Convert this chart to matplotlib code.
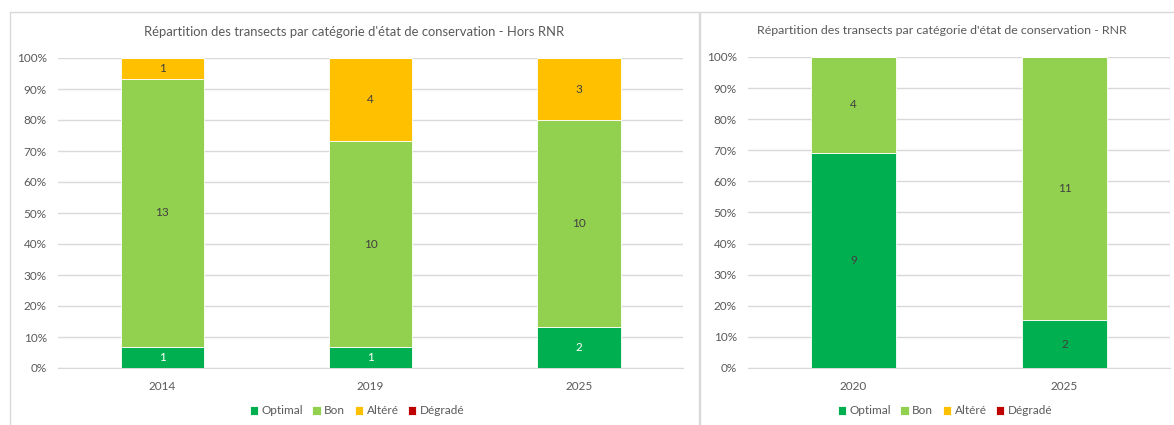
import matplotlib
matplotlib.use("Agg")
import matplotlib.pyplot as plt
import numpy as np
from matplotlib.patches import Rectangle

plt.rcParams['font.family'] = ['Lato', 'DejaVu Sans']

series = ["Optimal", "Bon", "Altéré", "Dégradé"]
colors = ["#00B050", "#92D050", "#FFC000", "#C00000"]

left_title = "Répartition des transects par catégorie d'état de conservation - Hors RNR"
left_years = ["2014", "2019", "2025"]
left_optimal = [1, 1, 2]
left_bon = [13, 10, 10]
left_altere = [1, 4, 3]
left_degrade = [0, 0, 0]

right_title = "Répartition des transects par catégorie d'état de conservation - RNR"
right_years = ["2020", "2025"]
right_optimal = [9, 2]
right_bon = [4, 11]
right_altere = [0, 0]
right_degrade = [0, 0]

W, H = 1174, 425
fig = plt.figure(figsize=(W / 100, H / 100), dpi=100)
fig.patch.set_facecolor("white")

def px_axes(x0, y0, x1, y1):
    return fig.add_axes([x0 / W, 1 - y1 / H, (x1 - x0) / W, (y1 - y0) / H])

# chart borders
fig.patches.append(Rectangle((10 / W, -0.01), (699 - 10) / W, 1 - 12 / H + 0.01,
                             transform=fig.transFigure, fill=False,
                             edgecolor="#D9D9D9", linewidth=1))
fig.patches.append(Rectangle((700 / W, -0.01), (1180 - 700) / W, 1 - 12 / H + 0.01,
                             transform=fig.transFigure, fill=False,
                             edgecolor="#D9D9D9", linewidth=1))

TXT = "#595959"

def draw(ax, title, years, data, label_colors, xc_title, yt, legend_x, title_size):
    vals = np.array(data, dtype=float)
    totals = vals.sum(axis=0)
    pct = vals / totals * 100
    x = np.arange(len(years))
    bottom = np.zeros(len(years))
    for i, (name, col) in enumerate(zip(series, colors)):
        ax.bar(x, pct[i], bottom=bottom, width=0.4, color=col, label=name,
               edgecolor="white", linewidth=0.6, zorder=3)
        for j in range(len(years)):
            if vals[i, j] > 0:
                ax.text(x[j], bottom[j] + pct[i, j] / 2, f"{int(vals[i, j])}",
                        ha="center", va="center", fontsize=8.5,
                        color=label_colors[i][j], zorder=4)
        bottom += pct[i]
    ax.set_ylim(0, 100)
    ax.set_xlim(-0.5, len(years) - 0.5)
    ax.set_yticks(np.arange(0, 101, 10))
    ax.set_yticklabels([f"{v}%" for v in range(0, 101, 10)])
    ax.set_xticks(x)
    ax.set_xticklabels(years)
    ax.tick_params(axis="both", length=0, colors=TXT, labelsize=8.5)
    ax.tick_params(axis="x", pad=9)
    ax.tick_params(axis="y", pad=8)
    ax.grid(axis="y", color="#D9D9D9", linewidth=1, zorder=0)
    for s in ["top", "right", "left"]:
        ax.spines[s].set_visible(False)
    ax.spines["bottom"].set_color("#D9D9D9")
    ax.set_facecolor("none")
    fig.text(xc_title / W, 1 - yt / H, title, ha="center", va="center",
             fontsize=title_size, color=TXT)
    handles, labels = ax.get_legend_handles_labels()
    fig.legend(handles, labels, loc="center", bbox_to_anchor=(legend_x / W, 1 - 411 / H),
               ncol=4, frameon=False, fontsize=8.5, handlelength=0.7,
               handleheight=0.7, handletextpad=0.3, columnspacing=0.8,
               labelcolor=TXT)

axL = px_axes(58, 58, 683, 368)
draw(axL, left_title, left_years,
     [left_optimal, left_bon, left_altere, left_degrade],
     [["white"] * 3, ["#404040"] * 3, ["#404040"] * 3, ["#404040"] * 3],
     354, 32, 357, 9.4)

axR = px_axes(748, 57, 1170, 368)
draw(axR, right_title, right_years,
     [right_optimal, right_bon, right_altere, right_degrade],
     [["#404040"] * 2, ["#404040"] * 2, ["#404040"] * 2, ["#404040"] * 2],
     942, 31, 945, 8.9)

fig.savefig("out.png", dpi=100, facecolor="white")
